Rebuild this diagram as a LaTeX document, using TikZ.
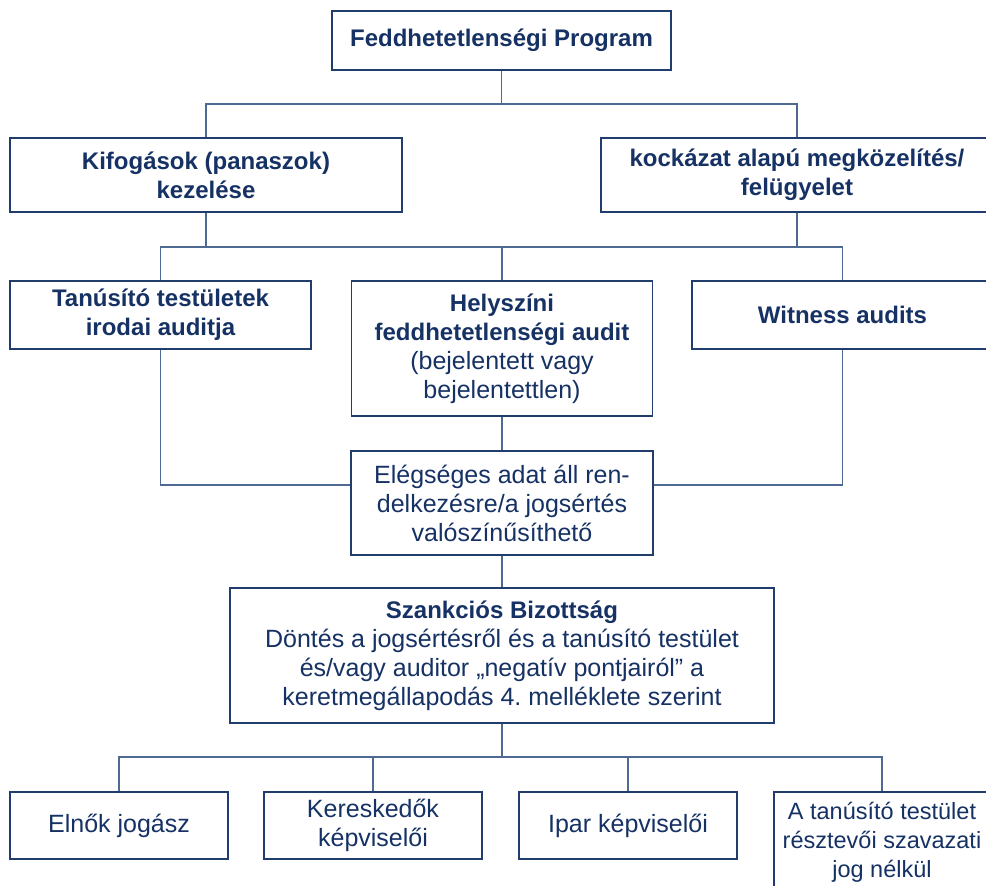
\documentclass[tikz,border=0pt]{standalone}
\usepackage{fontspec}
\setmainfont{Liberation Sans}
\definecolor{navy}{RGB}{22,50,100}
\definecolor{slate}{RGB}{78,106,146}
\newcommand{\hd}[1]{{\fontsize{24}{29}\selectfont\bfseries #1}}
\begin{document}
\begin{tikzpicture}[x=1pt,y=-1pt,
  every node/.style={font=\fontsize{25}{29}\selectfont, text=navy},
  box/.style={draw=navy!80!slate, line width=1.7pt, fill=white, inner sep=0pt, align=center},
  head/.style={box, font=\fontsize{24}{29}\selectfont\bfseries},
  link/.style={draw=slate, line width=1.6pt}]
  \useasboundingbox (0,0) rectangle (986,886);
  \clip (0,0) rectangle (986,886);
  \node[head, minimum width=339pt, minimum height=59pt] (prog) at (501.5,40.5) {Feddhetetlenségi Program};
  \node[head, minimum width=392pt, minimum height=74pt] (kifog) at (206,175) {Kifogások (panaszok)\\kezelése};
  \node[head, minimum width=392pt, minimum height=74pt] (kock) at (797,175) {kockázat alapú megközelítés/\\felügyelet};
  \node[head, minimum width=301pt, minimum height=68pt] (tanus) at (160.5,315) {Tanúsító testületek\\irodai auditja};
  \node[box, minimum width=301pt, minimum height=135pt] (helysz) at (502,348.5) {\hd{Helyszíni}\\\hd{feddhetetlenségi audit}\\(bejelentett vagy\\bejelentettlen)};
  \node[head, minimum width=301pt, minimum height=68pt] (witness) at (842.5,315) {Witness audits};
  \node[box, minimum width=302pt, minimum height=104pt] (eleg) at (502,503) {Elégséges adat áll ren-\\delkezésre/a jogsértés\\valószínűsíthető};
  \node[box, minimum width=544pt, minimum height=135pt] (szank) at (502,655.5) {\hd{Szankciós Bizottság}\\Döntés a jogsértésről és a tanúsító testület\\és/vagy auditor „negatív pontjairól” a\\keretmegállapodás 4.\ melléklete szerint};
  \node[box, minimum width=218pt, minimum height=67pt] (elnok) at (119,825.5) {Elnők jogász};
  \node[box, minimum width=218pt, minimum height=67pt] (keresk) at (373,825.5) {Kereskedők\\képviselői};
  \node[box, minimum width=218pt, minimum height=67pt] (ipar) at (628,825.5) {Ipar képviselői};
  \node[box, minimum width=216pt, minimum height=100pt, font=\fontsize{23.5}{29}\selectfont] (resztv) at (882,842) {A tanúsító testület\\résztevői szavazati\\jog nélkül};
  \coordinate (top) at (501.5,104);
  \coordinate (mid) at (0,247);
  \coordinate (low) at (0,485);
  \coordinate (foot) at (0,757);
  \draw[link] (prog.south) -- (prog.south |- top);
  \draw[link] (kifog.north) -- (kifog.north |- top) -- (kock.north |- top) -- (kock.north);
  \foreach \n in {kifog,kock}
    \draw[link] (\n.south) -- (\n.south |- mid);
  \draw[link] (tanus.north) -- (tanus.north |- mid) -- (witness.north |- mid) -- (witness.north);
  \draw[link] (helysz.north) -- (helysz.north |- mid);
  \draw[link] (tanus.south) |- (eleg.west |- low);
  \draw[link] (witness.south) |- (eleg.east |- low);
  \draw[link] (helysz.south) -- (eleg.north);
  \draw[link] (eleg.south) -- (szank.north);
  \draw[link] (szank.south) -- (szank.south |- foot);
  \draw[link] (elnok.north) -- (elnok.north |- foot) -- (resztv.north |- foot) -- (resztv.north);
  \foreach \n in {keresk,ipar}
    \draw[link] (\n.north) -- (\n.north |- foot);
\end{tikzpicture}
\end{document}
